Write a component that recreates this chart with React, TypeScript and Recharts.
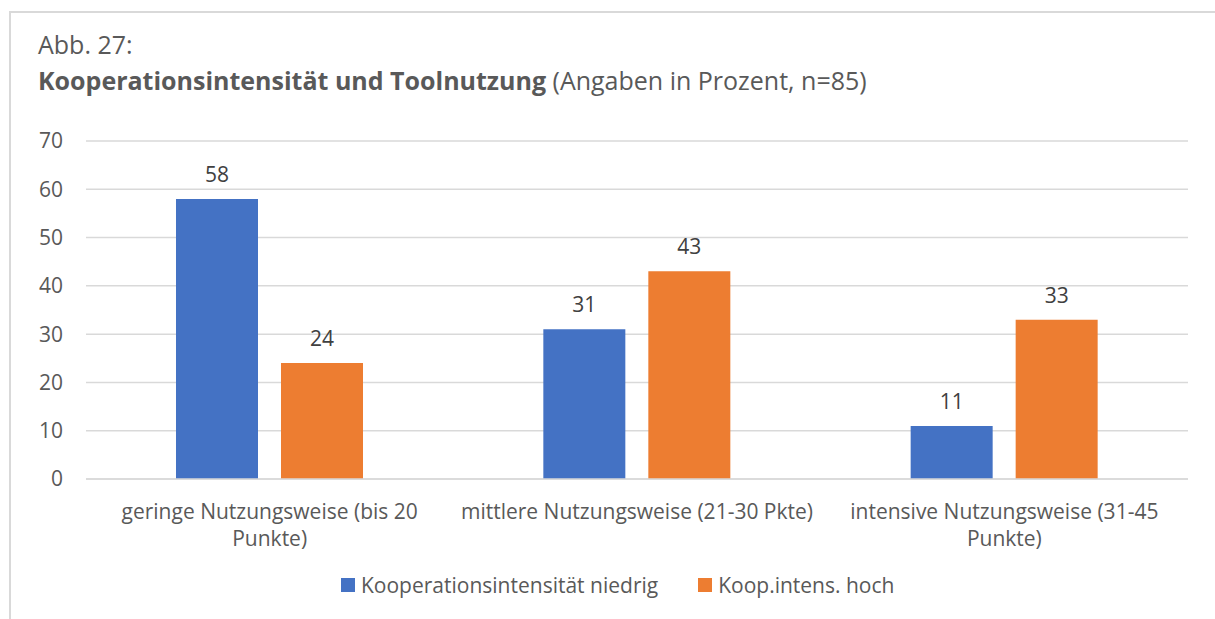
import React from "react";
import { BarChart, Bar, XAxis, YAxis, CartesianGrid, Legend, LabelList } from "recharts";

const categories = [
  "geringe Nutzungsweise (bis 20\nPunkte)",
  "mittlere Nutzungsweise (21-30 Pkte)",
  "intensive Nutzungsweise (31-45\nPunkte)",
];
const niedrig = [58, 31, 11];
const hoch = [24, 43, 33];
const yTicks = [0, 10, 20, 30, 40, 50, 60, 70];
const seriesNames = ["Kooperationsintensität niedrig", "Koop.intens. hoch"];
const colors = ["#4472C4", "#ED7D31"];

const data = categories.map((c, i) => ({ name: c, niedrig: niedrig[i], hoch: hoch[i] }));

const FONT = "'Open Sans', sans-serif";
const FS = 21;
const GRAY = "#595959";

const XTick = (props: any) => {
  const { x, y, payload } = props;
  const lines = String(payload.value).split("\n");
  return (
    <text x={x} y={y + 40} textAnchor="middle" fill={GRAY} fontSize={FS} fontFamily={FONT}>
      {lines.map((l, i) => (
        <tspan key={i} x={x} dy={i === 0 ? 0 : 27}>
          {l}
        </tspan>
      ))}
    </text>
  );
};

const LegendContent = () => (
  <div style={{ display: "flex", alignItems: "center", fontFamily: FONT, fontSize: FS, color: GRAY, whiteSpace: "nowrap", lineHeight: "28px" }}>
    {seriesNames.map((n, i) => (
      <div key={n} style={{ display: "flex", alignItems: "center", marginRight: i === 0 ? 40 : 0 }}>
        <div style={{ width: 14, height: 14, background: colors[i], marginRight: 6 }} />
        <span>{n}</span>
      </div>
    ))}
  </div>
);

export default function App() {
  return (
    <div style={{ position: "absolute", left: 0, top: 0, width: 1215, height: 619, background: "#fff", overflow: "hidden" }}>
      <div
        style={{
          position: "absolute",
          left: 9,
          top: 11,
          width: 1230,
          height: 640,
          borderTop: "2px solid #D9D9D9",
          borderLeft: "2px solid #D9D9D9",
        }}
      />
      <div style={{ position: "absolute", left: 38, top: 29, fontFamily: FONT, fontSize: 25, color: GRAY, whiteSpace: "nowrap", lineHeight: "30px" }}>
        Abb. 27:
      </div>
      <div style={{ position: "absolute", left: 38, top: 65, fontFamily: FONT, fontSize: 25, color: GRAY, whiteSpace: "nowrap", lineHeight: "30px" }}>
        <b>Kooperationsintensität und Toolnutzung</b> (Angaben in Prozent, n=85)
      </div>
      <div style={{ position: "absolute", left: 0, top: 0 }}>
        <BarChart
          width={1215}
          height={619}
          data={data}
          margin={{ top: 141, right: 27, bottom: 80, left: 0 }}
          barCategoryGap="24.5%"
          barGap={23}
        >
          <CartesianGrid vertical={false} stroke="#D9D9D9" strokeWidth={1.5} />
          <XAxis
            dataKey="name"
            axisLine={{ stroke: "#D9D9D9", strokeWidth: 1.5 }}
            tickLine={false}
            tickSize={0}
            tickMargin={0}
            height={60}
            interval={0}
            tick={<XTick />}
          />
          <YAxis
            width={86}
            domain={[0, 70]}
            ticks={yTicks}
            axisLine={false}
            tickLine={false}
            tickSize={0}
            tickMargin={23}
            tick={{ fill: GRAY, fontSize: FS, fontFamily: FONT }}
          />
          <Legend
            layout="horizontal"
            verticalAlign="middle"
            align="center"
            wrapperStyle={{ top: 571, left: 341, width: 700 }}
            content={<LegendContent />}
          />
          <Bar dataKey="niedrig" name={seriesNames[0]} fill={colors[0]} isAnimationActive={false}>
            <LabelList dataKey="niedrig" position="top" offset={17} fill="#404040" fontSize={FS} fontFamily={FONT} />
          </Bar>
          <Bar dataKey="hoch" name={seriesNames[1]} fill={colors[1]} isAnimationActive={false}>
            <LabelList dataKey="hoch" position="top" offset={17} fill="#404040" fontSize={FS} fontFamily={FONT} />
          </Bar>
        </BarChart>
      </div>
    </div>
  );
}
